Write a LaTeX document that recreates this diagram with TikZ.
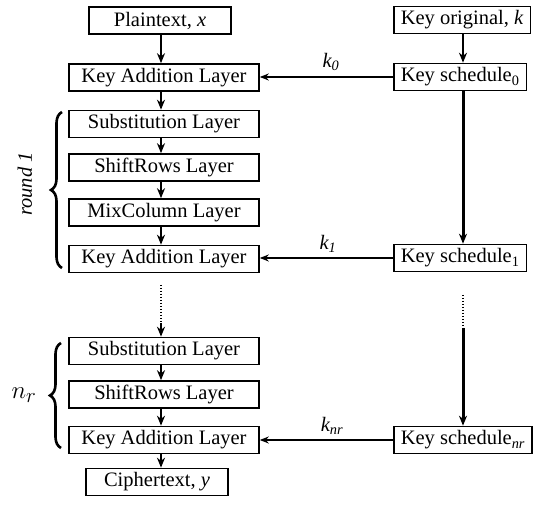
\documentclass[tikz,border=0pt]{standalone}
\usepackage{fontspec}
\setmainfont{Liberation Serif}
\usetikzlibrary{arrows.meta,decorations.pathreplacing}
\begin{document}
\begin{tikzpicture}[x=1pt,y=-1pt,
 box/.style={draw,line width=1.6pt,minimum height=27pt,inner xsep=7pt,inner ysep=0pt,font=\fontsize{20.5}{24}\selectfont},
 layer/.style={box,minimum width=190pt},
 arr/.style={line width=2.4pt,-{Stealth[length=10pt,width=8pt]}},
 harr/.style={line width=1.9pt,-{Stealth[length=9pt,width=7pt]}},
 dots/.style={line width=1.8pt,dash pattern=on 1.4pt off 1.6pt},
 brc/.style={line width=2.6pt,decorate,decoration={brace,amplitude=11pt}},
 lab/.style={font=\fontsize{20.5}{24}\selectfont\itshape}]
\useasboundingbox (0,0) rectangle (541,510);
\coordinate (colL) at (161,0);
\coordinate (colR) at (463,0);
% left column
\node[box,minimum width=142pt] (pt) at (160,20.5) {Plaintext, \textit{x}};
\node[layer] (ka0) at (164,77.5) {Key Addition Layer};
\node[layer] (sb1) at (164,124) {Substitution Layer};
\node[layer] (sr1) at (164,167.5) {ShiftRows Layer};
\node[layer] (mc1) at (164,212.5) {MixColumn Layer};
\node[layer] (ka1) at (164,259) {Key Addition Layer};
\node[layer] (sb2) at (164,351) {Substitution Layer};
\node[layer] (sr2) at (164,394.5) {ShiftRows Layer};
\node[layer] (ka2) at (164,440) {Key Addition Layer};
\node[box,minimum width=142pt] (ct) at (157,482) {Ciphertext, \textit{y}};
% right column
\node[box,anchor=west] (ko) at (393,20) {Key original, \textit{k}};
\node[box,anchor=west] (ks0) at (393,77) {Key schedule\textsubscript{0}};
\node[box,anchor=west] (ks1) at (393,258) {Key schedule\textsubscript{1}};
\node[box,anchor=west] (ksn) at (393,440) {Key schedule\textsubscript{\textit{nr}}};
% vertical arrows
\foreach \a/\b in {pt/ka0,ka0/sb1,sb1/sr1,sr1/mc1,mc1/ka1,sb2/sr2,sr2/ka2,ka2/ct}
  \draw[arr] (\a.south -| colL) -- (\b.north -| colL);
\coordinate (dL1) at (161,285);
\coordinate (dL2) at (161,323);
\draw[dots] (dL1) -- (dL2);
\draw[arr] (dL2) -- (sb2.north -| colL);
\draw[arr] (ko.south -| colR) -- (ks0.north -| colR);
\draw[arr,line width=3pt] (ks0.south -| colR) -- (ks1.north -| colR);
\coordinate (dR1) at (463,295);
\coordinate (dR2) at (463,328);
\draw[dots] (dR1) -- (dR2);
\draw[arr,line width=3pt] (dR2) -- (ksn.north -| colR);
% key arrows
\draw[harr] (ks0.west) -- (ks0.west -| ka0.east);
\draw[harr] (ks1.west) -- (ks1.west -| ka1.east);
\draw[harr] (ksn.west) -- (ksn.west -| ka2.east);
\node[lab] (k0) at (331,62) {k\textsubscript{0}};
\node[lab] (k1) at (328,244) {k\textsubscript{1}};
\node[lab] (kn) at (332,426) {k\textsubscript{nr}};
% braces
\draw[brc] (62,268) -- (62,112);
\draw[brc] (61,448) -- (61,343);
\node[lab,rotate=90] (r1) at (25,184) {round 1};
\node (nr) at (24,395) {\fontsize{29}{32}\selectfont$n_r$};
\end{tikzpicture}
\end{document}
